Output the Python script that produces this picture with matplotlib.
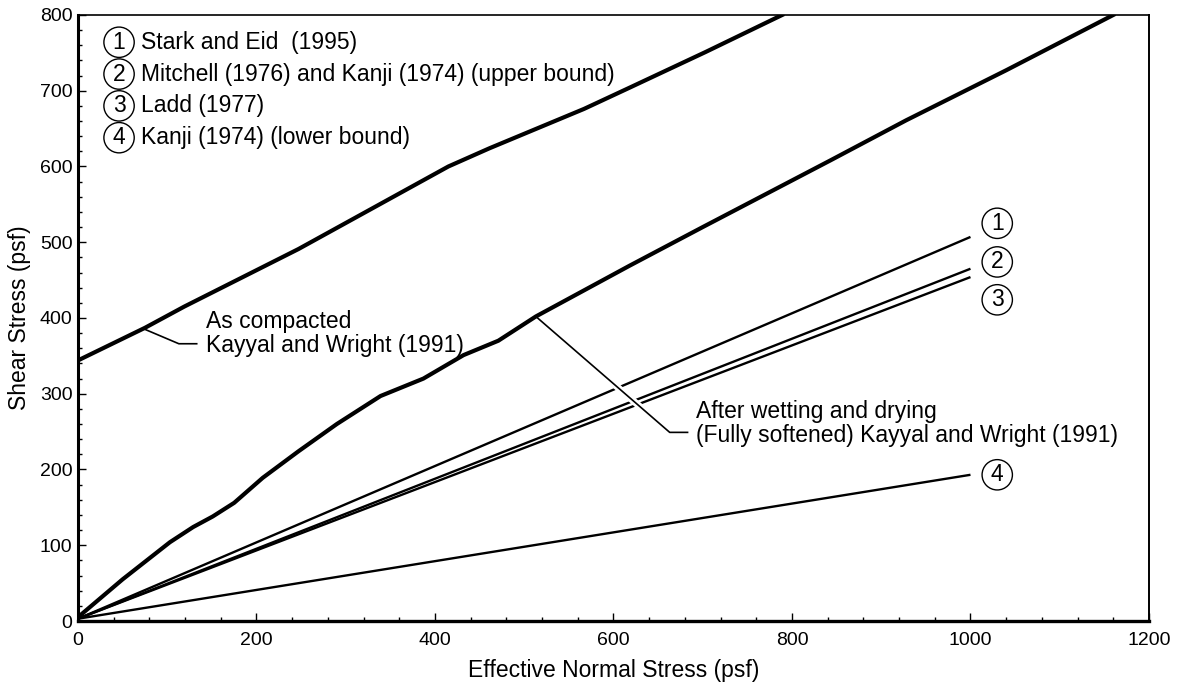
import matplotlib
matplotlib.use("Agg")
import matplotlib.pyplot as plt
import matplotlib.patheffects as pe
from matplotlib.ticker import MultipleLocator

plt.rcParams['font.family'] = ['Liberation Sans', 'DejaVu Sans']

# As compacted - Kayyal and Wright (1991)
comp_x = [0, 75, 119, 247, 415, 461, 567, 618, 703, 789]
comp_y = [344, 387, 415, 491, 600, 624, 676, 704, 751, 800]

# After wetting and drying (fully softened) - Kayyal and Wright (1991)
soft_x = [0, 50, 103, 129, 151, 175, 207, 247, 290, 339, 387, 432, 471, 513, 618, 700, 843, 928, 1040, 1160]
soft_y = [5, 55, 104, 124, 138, 156, 189, 224, 260, 297, 320, 351, 370, 402, 469, 520, 608, 661, 727, 800]

# straight envelopes 1..4
line_x = [0, 1000]
line1_y = [3, 507]
line2_y = [3, 465]
line3_y = [3, 454]
line4_y = [3, 193]

legend_nums = ['1', '2', '3', '4']
legend_text = ['Stark and Eid  (1995)',
               'Mitchell (1976) and Kanji (1974) (upper bound)',
               'Ladd (1977)',
               'Kanji (1974) (lower bound)']
end_label_y = [525, 474, 424, 193]

fig = plt.figure(figsize=(11.8, 6.9), dpi=100)
ax = fig.add_axes([0.0661, 0.1, 0.9076, 0.8783])

for ys in [line1_y, line2_y, line3_y, line4_y]:
    ax.plot(line_x, ys, color='black', lw=1.7, zorder=2, solid_capstyle='butt')

ax.plot(comp_x, comp_y, color='black', lw=3.0, zorder=4, solid_joinstyle='round')
ax.plot(soft_x, soft_y, color='black', lw=3.0, zorder=4, solid_joinstyle='round')

# leaders
halo = [pe.Stroke(linewidth=5, foreground='white'), pe.Normal()]
ax.plot([513, 663, 683], [402, 249, 249], color='black', lw=1.2, zorder=3,
        path_effects=halo)
ax.plot([73, 113, 133], [386, 366, 366], color='black', lw=1.2, zorder=3)

fs = 16.5
ax.text(143, 396, 'As compacted', fontsize=fs, va='center', ha='left')
ax.text(143, 364, 'Kayyal and Wright (1991)', fontsize=fs, va='center', ha='left')
ax.text(692, 276, 'After wetting and drying', fontsize=fs, va='center', ha='left')
ax.text(692, 245, '(Fully softened) Kayyal and Wright (1991)', fontsize=fs,
        va='center', ha='left')

circ = dict(boxstyle='circle,pad=0.16', fc='white', ec='black', lw=1.0)
leg_y = [764, 722, 680, 638]
for num, txt, y in zip(legend_nums, legend_text, leg_y):
    ax.text(46, y, num, fontsize=fs, ha='center', va='center', bbox=circ)
    ax.text(71, y, txt, fontsize=fs, ha='left', va='center')

for num, y in zip(legend_nums, end_label_y):
    ax.text(1030, y, num, fontsize=fs, ha='center', va='center', bbox=circ)

ax.set_xlim(0, 1200)
ax.set_ylim(0, 800)
ax.xaxis.set_major_locator(MultipleLocator(200))
ax.xaxis.set_minor_locator(MultipleLocator(40))
ax.yaxis.set_major_locator(MultipleLocator(100))
ax.yaxis.set_minor_locator(MultipleLocator(20))
ax.tick_params(which='both', direction='in', top=False, right=False,
               labelsize=14, width=1.0)
ax.tick_params(which='major', length=6)
ax.tick_params(which='minor', length=3)
ax.tick_params(axis='x', pad=8)
ax.tick_params(axis='y', pad=4)

ax.spines['left'].set_linewidth(2.2)
ax.spines['bottom'].set_linewidth(2.4)
ax.spines['top'].set_linewidth(1.2)
ax.spines['right'].set_linewidth(1.4)

ax.set_xlabel('Effective Normal Stress (psf)', fontsize=16.5)
ax.set_ylabel('Shear Stress (psf)', fontsize=16.5)
ax.xaxis.set_label_coords(0.5, -0.062)
ax.yaxis.set_label_coords(-0.044, 0.5)

fig.savefig('out.png', dpi=100)
